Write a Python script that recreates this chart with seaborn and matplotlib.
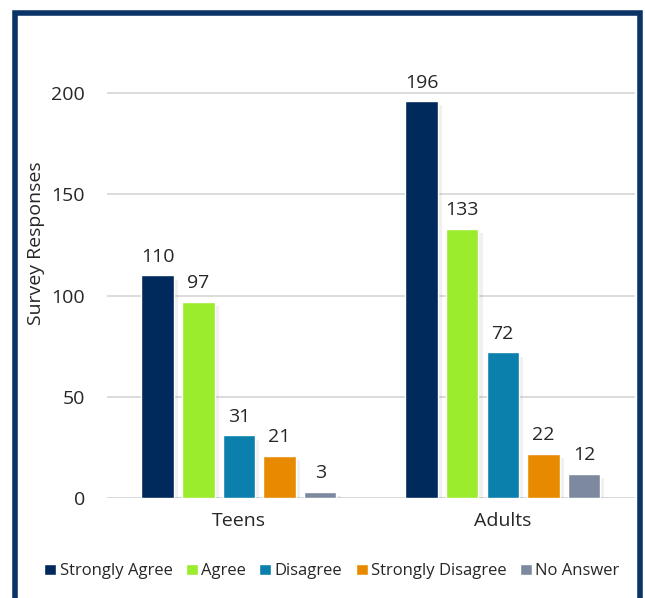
import matplotlib
matplotlib.use("Agg")
import matplotlib.pyplot as plt
import matplotlib.patheffects as pe
from matplotlib.patches import Rectangle
import pandas as pd
import seaborn as sns

groups = ["Teens", "Adults"]
responses = ["Strongly Agree", "Agree", "Disagree", "Strongly Disagree", "No Answer"]
teens = [110, 97, 31, 21, 3]
adults = [196, 133, 72, 22, 12]
colors = ["#002a5c", "#9bec2c", "#0b80ad", "#e88a00", "#7d899e"]

rows = []
for g, vals in zip(groups, [teens, adults]):
    for r, v in zip(responses, vals):
        rows.append((g, r, v))
df = pd.DataFrame(rows, columns=["group", "response", "count"])

sns.set_theme(style="white")
plt.rcParams["font.family"] = ["Open Sans", "DejaVu Sans"]
text_color = "#262626"

fig = plt.figure(figsize=(6.45, 5.98), dpi=100)
ax = fig.add_axes([0.166, 0.167, 0.818, 0.728])

sns.barplot(data=df, x="group", y="count", hue="response", palette=colors,
            width=0.77, gap=0.2, ax=ax, legend=True, saturation=1)

for cont in ax.containers:
    for patch in cont:
        patch.set_path_effects([pe.SimplePatchShadow(offset=(3, -3), shadow_rgbFace="#000000", alpha=0.06),
                                pe.Normal()])
    ax.bar_label(cont, padding=7, fontsize=14, color=text_color)

ax.set_ylim(0, 215)
ax.set_yticks([0, 50, 100, 150, 200])
ax.yaxis.grid(True, color="#d9d9d9", linewidth=1.3)
ax.set_axisbelow(True)
for s in ["top", "right", "left", "bottom"]:
    ax.spines[s].set_visible(False)
ax.axhline(0, color="#d9d9d9", linewidth=1.3, zorder=0)
ax.tick_params(axis="y", length=0, pad=16, labelsize=14, labelcolor=text_color)
ax.tick_params(axis="x", length=0, pad=10, labelsize=14, labelcolor=text_color)
ax.set_xlabel("")
ax.set_ylabel("Survey Responses", fontsize=14, color=text_color)
ax.yaxis.set_label_coords(-0.117, 0.586)

leg = ax.legend(loc="center", bbox_to_anchor=(0.426, -0.168), ncol=5,
                frameon=False, fontsize=12, handlelength=0.72, handleheight=0.72,
                handletextpad=0.2, columnspacing=0.8)
for t in leg.get_texts():
    t.set_color(text_color)
for h in leg.legend_handles:
    h.set_path_effects([])

frame = Rectangle((14.5 / 645, -0.05), (639.5 - 14.5) / 645, 1.05 - 13 / 598,
                  transform=fig.transFigure, fill=False, edgecolor="#0b3366",
                  linewidth=4, zorder=10)
fig.patches.append(frame)

fig.savefig("out.png", dpi=100)
